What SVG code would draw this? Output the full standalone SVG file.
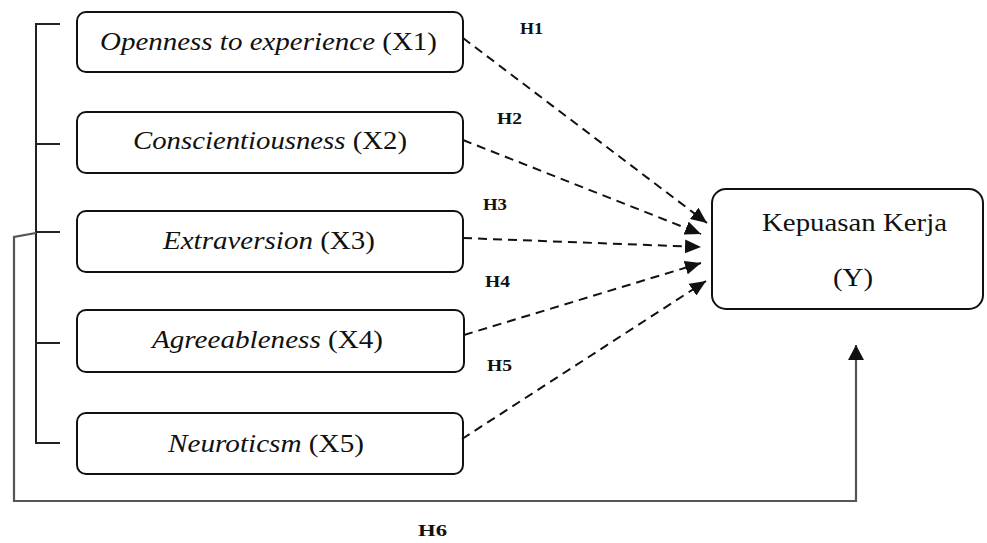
<svg xmlns="http://www.w3.org/2000/svg" width="987" height="543" viewBox="0 0 987 543">
<style>
.box{fill:#fff;stroke:#111;stroke-width:2}
.t{font-family:"Liberation Serif","Times New Roman",serif;font-size:26px;fill:#111}
.it{font-style:italic}
.h{font-family:"Liberation Serif","Times New Roman",serif;font-size:17px;font-weight:bold;fill:#111}
.dash{fill:none;stroke:#111;stroke-width:2;stroke-dasharray:9 6}
.br{fill:none;stroke:#222;stroke-width:2}
.gr{fill:none;stroke:#555;stroke-width:2.2}
</style>
<defs>
<marker id="ah" markerUnits="userSpaceOnUse" markerWidth="18" markerHeight="14" refX="16" refY="7" orient="auto">
<path d="M0,0 L16,7 L0,14 Z" fill="#111"/>
</marker>
<marker id="ahu" markerUnits="userSpaceOnUse" markerWidth="18" markerHeight="16" refX="15" refY="8" orient="auto">
<path d="M0,0 L15,8 L0,16 Z" fill="#111"/>
</marker>
</defs>
<g id="x1"><rect class="box" x="77" y="12" width="386" height="60" rx="9"/><text class="t" x="100" y="50" textLength="337" lengthAdjust="spacingAndGlyphs"><tspan class="it">Openness to experience</tspan> (X1)</text></g>
<g id="x2"><rect class="box" x="77" y="112" width="386" height="61" rx="9"/><text class="t" x="133" y="149" textLength="274" lengthAdjust="spacingAndGlyphs"><tspan class="it">Conscientiousness</tspan> (X2)</text></g>
<g id="x3"><rect class="box" x="77" y="211" width="386" height="61" rx="9"/><text class="t" x="163" y="249" textLength="212" lengthAdjust="spacingAndGlyphs"><tspan class="it">Extraversion</tspan> (X3)</text></g>
<g id="x4"><rect class="box" x="77" y="310" width="387" height="62" rx="9"/><text class="t" x="152" y="348" textLength="231" lengthAdjust="spacingAndGlyphs"><tspan class="it">Agreeableness</tspan> (X4)</text></g>
<g id="x5"><rect class="box" x="77" y="413" width="386" height="61" rx="9"/><text class="t" x="168" y="452" textLength="196" lengthAdjust="spacingAndGlyphs"><tspan class="it">Neuroticsm</tspan> (X5)</text></g>
<g id="y"><rect class="box" x="712" y="189" width="271" height="120" rx="14"/><text class="t" x="762" y="231" textLength="185" lengthAdjust="spacingAndGlyphs">Kepuasan Kerja</text><text class="t" x="833" y="286" textLength="40" lengthAdjust="spacingAndGlyphs">(Y)</text></g>
<g id="connectors">
<path class="br" d="M60,24 H36 V443 H60 M36,144 H60 M36,232 H60 M36,343 H60"/>
<path class="gr" d="M36,233 L14,237 V501 H856 V345" marker-end="url(#ahu)"/>
<line class="dash" x1="463" y1="38" x2="707" y2="223" marker-end="url(#ah)"/>
<line class="dash" x1="463" y1="140" x2="701" y2="234" marker-end="url(#ah)"/>
<line class="dash" x1="463" y1="238" x2="701" y2="247" marker-end="url(#ah)"/>
<line class="dash" x1="464" y1="335" x2="701" y2="263" marker-end="url(#ah)"/>
<line class="dash" x1="462" y1="439" x2="706" y2="281" marker-end="url(#ah)"/>
</g>
<g id="labels">
<text class="h" x="520" y="34" textLength="23" lengthAdjust="spacingAndGlyphs">H1</text>
<text class="h" x="497" y="124" textLength="25" lengthAdjust="spacingAndGlyphs">H2</text>
<text class="h" x="483" y="210" textLength="24" lengthAdjust="spacingAndGlyphs">H3</text>
<text class="h" x="485" y="287" textLength="25" lengthAdjust="spacingAndGlyphs">H4</text>
<text class="h" x="487" y="371" textLength="25" lengthAdjust="spacingAndGlyphs">H5</text>
<text class="h" x="418" y="536" font-size="21" textLength="29" lengthAdjust="spacingAndGlyphs">H6</text>
</g>
</svg>
